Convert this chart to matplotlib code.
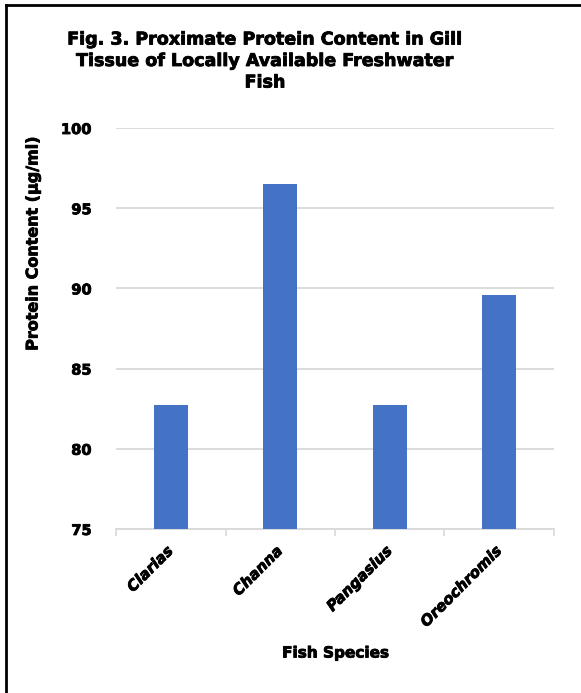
import matplotlib.pyplot as plt
import matplotlib.patheffects as pe
from matplotlib.lines import Line2D

# protein content in gill tissue (ug/ml)
species = ["Clarias", "Channa", "Pangasius", "Oreochromis"]
protein = [82.7, 96.5, 82.7, 89.6]
y_ticks = [75, 80, 85, 90, 95, 100]

bar_color = "#4472C4"
grid_color = "#D9D9D9"

# a thin stroke to make the bold text look heavier
heavy = [pe.withStroke(linewidth=0.6, foreground="black")]

fig = plt.figure(figsize=(5.81, 6.93), dpi=100)
ax = fig.add_axes([0.1997, 0.2367, 0.7538, 0.5786])

x = range(len(species))
ax.bar(x, [p - y_ticks[0] for p in protein], bottom=y_ticks[0], width=0.31,
       color=bar_color, zorder=3)

ax.set_xlim(-0.5, len(species) - 0.5)
ax.set_ylim(y_ticks[0], y_ticks[-1])
ax.set_yticks(y_ticks)
ax.set_yticklabels([str(t) for t in y_ticks], fontsize=10.5, fontweight="bold")
for lbl in ax.get_yticklabels():
    lbl.set_path_effects(heavy)
ax.tick_params(axis="y", length=0, pad=17.5)
ax.yaxis.grid(True, color=grid_color, linewidth=1.3, zorder=0)

# category labels sit under the bars, ticks sit between categories
ax.set_xticks([i - 0.5 for i in range(len(species) + 1)])
ax.set_xticklabels([])
ax.tick_params(axis="x", length=5, width=1.2, color=grid_color)
for i, name in enumerate(species):
    ax.text(i - 0.05, y_ticks[0] - 0.9, name, rotation=45, ha="right", va="top",
            rotation_mode="anchor", fontsize=10.8, fontweight="bold",
            fontstyle="italic", path_effects=heavy)

for side in ["top", "right", "left"]:
    ax.spines[side].set_visible(False)
ax.spines["bottom"].set_color(grid_color)
ax.spines["bottom"].set_linewidth(1.3)

fig.text(33 / 581, 1 - 243 / 693, "Protein Content (µg/ml)", rotation=90,
         ha="center", va="center", fontsize=11.5, fontweight="bold",
         path_effects=heavy)
fig.text(0.577, 1 - 653 / 693, "Fish Species", ha="center", va="center",
         fontsize=11, fontweight="bold", path_effects=heavy)

fig.text(265 / 581, 1 - 61 / 693,
         "Fig. 3. Proximate Protein Content in Gill\n"
         "Tissue of Locally Available Freshwater\nFish",
         ha="center", va="center", fontsize=12.6, fontweight="bold",
         linespacing=1.25, path_effects=heavy)

# frame lines along the top and left edges
fig.add_artist(Line2D([0.0095, 1.0], [0.993, 0.993], color="black",
                      linewidth=2, transform=fig.transFigure))
fig.add_artist(Line2D([0.0103, 0.0103], [0.0, 0.993], color="black",
                      linewidth=2, transform=fig.transFigure))

fig.savefig("out.png", dpi=100)
